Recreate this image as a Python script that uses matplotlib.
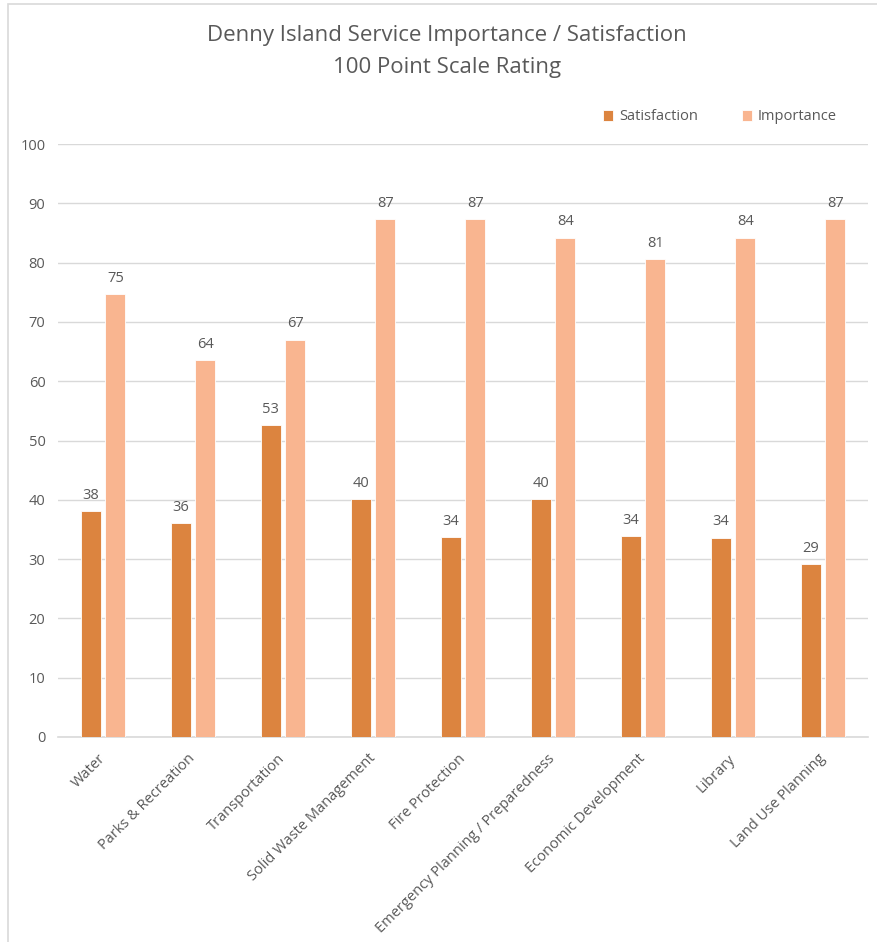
import numpy as np
import matplotlib
matplotlib.use("Agg")
import matplotlib.pyplot as plt
from matplotlib.patches import Rectangle

categories = [
    "Water", "Parks & Recreation", "Transportation", "Solid Waste Management",
    "Fire Protection", "Emergency Planning / Preparedness",
    "Economic Development", "Library", "Land Use Planning",
]
satisfaction = [38.1, 36.1, 52.6, 40.1, 33.7, 40.1, 33.9, 33.6, 29.1]
importance = [74.7, 63.6, 67.0, 87.3, 87.3, 84.2, 80.6, 84.2, 87.3]
y_ticks = [0, 10, 20, 30, 40, 50, 60, 70, 80, 90, 100]

SAT_COLOR = "#DC843F"
IMP_COLOR = "#F9B590"
TEXT = "#595959"
GRID = "#D9D9D9"

plt.rcParams["font.family"] = ["Open Sans", "DejaVu Sans"]

W, H = 878, 942
fig = plt.figure(figsize=(W / 100, H / 100), dpi=100)

# outer chart border (left/top visible)
fig.patches.append(Rectangle((8 / W, -0.01), 1.1, 1 - 4 / H + 0.01, transform=fig.transFigure,
                             fill=False, edgecolor="#D9D9D9", linewidth=1.2))

ax = fig.add_axes([58 / W, 1 - 737 / H, 810 / W, 593 / H])
x = np.arange(len(categories))
bw = 0.225
off = 0.137
b1 = ax.bar(x - off, satisfaction, bw, color=SAT_COLOR, edgecolor="white", linewidth=0.6,
            label="Satisfaction", zorder=3)
b2 = ax.bar(x + off, importance, bw, color=IMP_COLOR, edgecolor="white", linewidth=0.6,
            label="Importance", zorder=3)

for bars, vals in ((b1, satisfaction), (b2, importance)):
    for r, v in zip(bars, vals):
        ax.annotate(f"{v:.0f}", (r.get_x() + r.get_width() / 2, v), xytext=(0, 6),
                    textcoords="offset points", ha="center", va="bottom",
                    fontsize=10.5, color=TEXT)

ax.set_xlim(-0.5, len(categories) - 0.5)
ax.set_ylim(0, 100)
ax.set_yticks(y_ticks)
ax.tick_params(axis="y", length=0, pad=9, labelsize=10.5, labelcolor=TEXT)
ax.tick_params(axis="x", length=0, pad=14, labelsize=10.5, labelcolor=TEXT)
ax.set_xticks(x)
ax.set_xticklabels(categories, rotation=45, ha="right", rotation_mode="anchor")
for lbl in ax.get_xticklabels():
    lbl.set_va("center")
ax.grid(axis="y", color=GRID, linewidth=1, zorder=0)
for s in ("top", "right", "left"):
    ax.spines[s].set_visible(False)
ax.spines["bottom"].set_color(GRID)
ax.spines["bottom"].set_linewidth(1.2)

fig.text(447 / W, 1 - 35 / H, "Denny Island Service Importance / Satisfaction",
         ha="center", va="center", fontsize=16, color=TEXT)
fig.text(447 / W, 1 - 67 / H, "100 Point Scale Rating",
         ha="center", va="center", fontsize=16, color=TEXT)

leg = fig.legend(handles=[b1, b2], loc="center", bbox_to_anchor=(720 / W, 1 - 117 / H),
                 ncol=2, frameon=False, fontsize=10.5, labelcolor=TEXT,
                 handlelength=0.7, handleheight=0.7, handletextpad=0.4, columnspacing=3.0)

fig.savefig("out.png", dpi=100, facecolor="white")
